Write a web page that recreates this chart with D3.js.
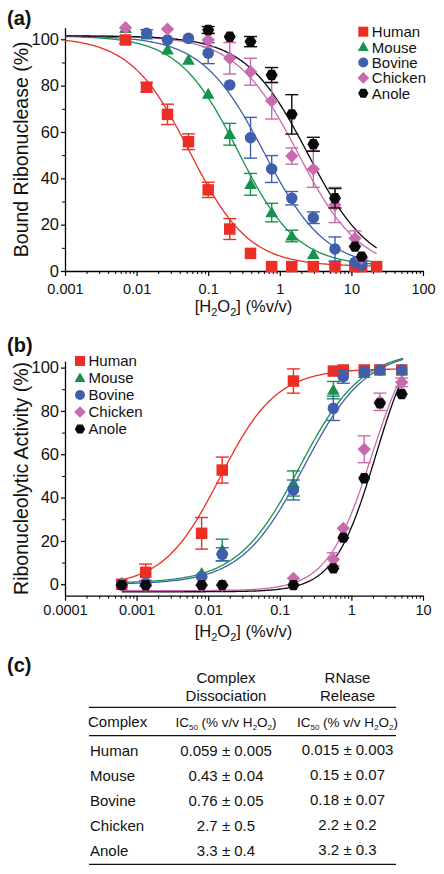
<!DOCTYPE html>
<html><head><meta charset="utf-8">
<script src="https://cdn.jsdelivr.net/npm/d3@7"></script>
<style>
body{margin:0;background:#fff;}
svg{display:block;font-family:"Liberation Sans",Arial,Helvetica,sans-serif;}
</style></head><body>
<svg id="chart" width="444" height="874"></svg>
<script>
// ---------- data ----------
const species = ["Human","Mouse","Bovine","Chicken","Anole"];
const colors = ["#ec2f26","#17924a","#3f5fad","#c96aae","#0a0a0a"];
const shapes = ["square","triangle","circle","diamond","hexagon"];

// Panel (a): bound ribonuclease (%)
const xA = [0.007,0.0138,0.027,0.053,0.1,0.2,0.39,0.77,1.47,2.94,5.9,11.2,13.9,22.5];
const humanA   = [99.7,79.3,67.6,55.8,35.0,18.1,7.6,1.9,1.9,1.9,1.9,1.9,1.9,1.9];
const humanErrA= [1.5,2,4.4,3.4,3.3,4.5,0,0,0,0,0,0,0,0];
const mouseA   = [104.7,101.9,95.4,91.0,76.3,59.0,37.4,25.2,15.1,7.2,null,null,null,null];
const mouseErrA= [0,0,0,0,0,4.7,4.7,4,2.5,0,0,0,0,0];
const bovineA  = [null,102.6,99.7,100.4,94.0,80.3,57.5,44.0,31.4,23.0,9.5,3.7,2.6,null];
const bovineErrA=[0,1.5,0,0,4.5,0,8.8,5.8,2.9,2.5,5.2,0,0,0];
const chickenA = [105,null,104.4,null,99.7,91.8,86.0,73.4,49.6,44.0,28.5,14.1,5.5,null];
const chickenErrA=[0,0,0,0,3,6.8,5.8,7.8,3.5,7.9,7.6,3.2,0,0];
const anoleA   = [null,null,null,null,104,101.1,99.0,84.6,67.6,54.7,31.4,10.5,6.2,null];
const anoleErrA= [0,0,0,0,1.5,0,2.2,3.2,8.5,3,4.2,0,0,0];
// logistic fit parameters, panel (a)
const fitTopA    = [101,101.5,101.5,101.5,101.5];
const fitBottomA = [2,2,1,0,0];
const fitMidA    = [0.055,0.26,0.6,1.8,2.45];
const fitHillA   = [1.05,1.05,1.0,1.0,1.0];
const fitRangeA  = [0.001,22.5];

// Panel (b): ribonucleolytic activity (%)
const xB = [0.00062,0.00134,0.0081,0.0157,0.155,0.56,0.77,1.51,2.5,5.05];
const humanB   = [0,5.5,23.5,52.7,93.8,98.4,98.9,98.9,98.9,98.9];
const humanErrB= [0,3.8,7.3,6,5.6,0,0,0,0,0];
const mouseB   = [0.5,1,5,15.8,46.5,89.6,null,97.3,98.9,98.9];
const mouseErrB= [0,0,0,5,5.8,4,0,0,0,0];
const bovineB  = [0,0.5,3.5,13.8,43.5,81.2,95.8,98.1,98.9,98.9];
const bovineErrB=[0,0,0,3,4.6,5.6,3,0,0,0];
const chickenB = [-0.5,-0.5,-0.5,-0.5,2.7,11.5,25.8,62.3,84.2,93.2];
const chickenErrB=[0,0,0,0,0,3,0,6.2,4,2];
const anoleB   = [-0.4,-0.5,-0.4,-0.4,-0.4,7.3,21.5,48.9,83.5,87.8];
const anoleErrB= [0,0,0,0,0,0,0,0,0,0];
const fitTopB    = [99.5,108,108,122,122];
const fitBottomB = [-1,0.5,0,-3,-3.5];
const fitMidB    = [0.0146,0.19,0.215,1.93,2.18];
const fitHillB   = [1.1,1.0,1.0,1.4,1.5];
const fitRangeB  = [0.00062,5.3];

// axis ticks
const xTicksA = [0.001,0.01,0.1,1,10,100];
const xTickLabelsA = ["0.001","0.01","0.1","1","10","100"];
const xTicksB = [0.0001,0.001,0.01,0.1,1,10];
const xTickLabelsB = ["0.0001","0.001","0.01","0.1","1","10"];
const yTicks = [0,20,40,60,80,100];
const yMinorTicks = [10,30,50,70,90];

// table (c)
const tableRows = ["Human","Mouse","Bovine","Chicken","Anole"];
const ic50Dissociation = ["0.059 ± 0.005","0.43 ± 0.04","0.76 ± 0.05","2.7 ± 0.5","3.3 ± 0.4"];
const ic50Release = ["0.015 ± 0.003","0.15 ± 0.07","0.18 ± 0.07","2.2 ± 0.2","3.2 ± 0.3"];

// ---------- drawing ----------
const svg = d3.select("#chart");

function symbolPath(kind, s) {
  const p = d3.path();
  if (kind === "square") {
    p.rect(-s/2, -s/2, s, s);
  } else if (kind === "triangle") {
    const h = s*0.95;
    p.moveTo(0, -h*0.58); p.lineTo(s*0.55, h*0.42); p.lineTo(-s*0.55, h*0.42); p.closePath();
  } else if (kind === "circle") {
    p.arc(0, 0, s*0.5, 0, 2*Math.PI);
  } else if (kind === "diamond") {
    const r = s*0.58;
    p.moveTo(0,-r); p.lineTo(r,0); p.lineTo(0,r); p.lineTo(-r,0); p.closePath();
  } else {
    const r = s*0.52;
    for (let i=0;i<6;i++){
      const a = Math.PI/3*i;
      const px = r*Math.cos(a), py = r*Math.sin(a);
      if(i===0) p.moveTo(px,py); else p.lineTo(px,py);
    }
    p.closePath();
  }
  return p.toString();
}

function logistic(x, top, bottom, mid, hill, rising) {
  const r = rising ? Math.pow(mid/x, hill) : Math.pow(x/mid, hill);
  return bottom + (top-bottom)/(1+r);
}

function minorTicks(x) {
  const [d0,d1] = x.domain();
  const out = [];
  for (let e = Math.round(Math.log10(d0)); e < Math.round(Math.log10(d1)); e++) {
    for (let m = 2; m <= 9; m++) out.push(m*Math.pow(10,e));
  }
  return out;
}

function drawPanel(cfg) {
  const g = svg.append("g");
  const {x, y} = cfg;
  const axisY = cfg.axisY;
  const xAxis = g.append("g").attr("transform",`translate(0,${axisY})`)
    .call(d3.axisBottom(x).tickValues(cfg.xTicks).tickFormat((d,i)=>cfg.xTickLabels[i])
      .tickSize(5).tickSizeOuter(0).tickPadding(cfg.xPad));
  xAxis.select(".domain").attr("stroke-width",1.3);
  xAxis.selectAll(".tick line").attr("stroke-width",1.2);
  xAxis.selectAll("text").attr("font-size",14.5).attr("fill","#111")
    .attr("font-family",'"Liberation Sans",Arial,sans-serif');
  const xMinor = g.append("g").attr("transform",`translate(0,${axisY})`)
    .call(d3.axisBottom(x).tickValues(minorTicks(x)).tickFormat("").tickSize(3).tickSizeOuter(0));
  xMinor.select(".domain").remove();
  xMinor.selectAll(".tick line").attr("stroke-width",1);

  const yAxis = g.append("g").attr("transform",`translate(${x.range()[0]},0)`)
    .call(d3.axisLeft(y).tickValues(yTicks).tickSize(4).tickSizeOuter(0).tickPadding(2));
  yAxis.select(".domain").attr("stroke-width",1.3);
  yAxis.selectAll(".tick line").attr("stroke-width",1.2);
  yAxis.selectAll("text").attr("font-size",16.5).attr("fill","#111")
    .attr("font-family",'"Liberation Sans",Arial,sans-serif');
  const yMinor = g.append("g").attr("transform",`translate(${x.range()[0]},0)`)
    .call(d3.axisLeft(y).tickValues(yMinorTicks).tickFormat("").tickSize(3).tickSizeOuter(0));
  yMinor.select(".domain").remove();

  const xt = g.append("text").attr("x",243.5).attr("y",cfg.xTitleY)
    .attr("text-anchor","middle").attr("font-size",16.5).attr("fill","#111");
  xt.append("tspan").text("[H");
  xt.append("tspan").text("2").attr("font-size",11).attr("dy",4);
  xt.append("tspan").text("O").attr("dy",-4);
  xt.append("tspan").text("2").attr("font-size",11).attr("dy",4);
  xt.append("tspan").text("] (%v/v)").attr("dy",-4);

  const yMid = (y.range()[0]+y.range()[1])/2;
  g.append("text").attr("transform",`translate(27.5,${yMid}) rotate(-90)`)
    .attr("text-anchor","middle").attr("font-size",19.5).attr("fill","#111")
    .text(cfg.yTitle);

  g.append("text").attr("x",7).attr("y",cfg.letterY).attr("font-size",20)
    .attr("font-weight","bold").attr("fill","#111").text(cfg.letter);

  const line = d3.line().x(d=>x(d[0])).y(d=>y(d[1]));
  const [r0,r1] = cfg.fitRange;
  const l0 = Math.log10(r0), l1 = Math.log10(r1);
  cfg.series.forEach((s,i)=>{
    const pts = d3.range(0,241).map(k=>{
      const xv = Math.pow(10, l0+(l1-l0)*k/240);
      return [xv, logistic(xv, cfg.fitTop[i], cfg.fitBottom[i], cfg.fitMid[i], cfg.fitHill[i], cfg.rising)];
    });
    g.append("path").datum(pts).attr("d",line).attr("fill","none")
      .attr("stroke",colors[i]).attr("stroke-width",1.3);
  });

  cfg.series.forEach((s,i)=>{
    const col = colors[i];
    const gs = g.append("g");
    const data = cfg.xs.map((xv,k)=>({x:xv, v:s[k], e:cfg.errs[i][k]})).filter(d=>d.v!==null);
    data.filter(d=>d.e>0).forEach(d=>{
      const cx = x(d.x), y1 = y(d.v+d.e), y2 = y(d.v-d.e);
      gs.append("line").attr("x1",cx).attr("x2",cx).attr("y1",y1).attr("y2",y2)
        .attr("stroke",col).attr("stroke-width",1.4);
      [y1,y2].forEach(yy=>gs.append("line").attr("x1",cx-6.5).attr("x2",cx+6.5)
        .attr("y1",yy).attr("y2",yy).attr("stroke",col).attr("stroke-width",1.4));
    });
    gs.selectAll("path.m").data(data).join("path").attr("class","m")
      .attr("transform",d=>`translate(${x(d.x)},${y(d.v)})`)
      .attr("d",symbolPath(shapes[i], 11.5)).attr("fill",col);
  });

  const lg = g.append("g");
  species.forEach((name,i)=>{
    const ly = cfg.legendY + i*cfg.legendStep;
    lg.append("path").attr("transform",`translate(${cfg.legendX},${ly})`)
      .attr("d",symbolPath(shapes[i],10)).attr("fill",colors[i]);
    lg.append("text").attr("x",cfg.legendX+8.5).attr("y",ly).attr("dy","0.36em")
      .attr("font-size",15).attr("fill","#111").text(name);
  });
}

const xScaleA = d3.scaleLog().domain([0.001,100]).range([65,423]);
const yScaleA = d3.scaleLinear().domain([0,105]).range([271,27.7]);
drawPanel({
  x:xScaleA, y:yScaleA, axisY:yScaleA(0), xPad:7.5,
  xTicks:xTicksA, xTickLabels:xTickLabelsA, xTitleY:312,
  yTitle:"Bound Ribonuclease (%)", letter:"(a)", letterY:25,
  xs:xA, series:[humanA,mouseA,bovineA,chickenA,anoleA],
  errs:[humanErrA,mouseErrA,bovineErrA,chickenErrA,anoleErrA],
  fitTop:fitTopA, fitBottom:fitBottomA, fitMid:fitMidA, fitHill:fitHillA,
  fitRange:fitRangeA, rising:false,
  legendX:363.3, legendY:31.7, legendStep:15.4
});

const xScaleB = d3.scaleLog().domain([0.0001,10]).range([65,423]);
const yScaleB = d3.scaleLinear().domain([-5.3,103]).range([595.7,361.1]);
drawPanel({
  x:xScaleB, y:yScaleB, axisY:595.7, xPad:4.5,
  xTicks:xTicksB, xTickLabels:xTickLabelsB, xTitleY:637,
  yTitle:"Ribonucleolytic Activity (%)", letter:"(b)", letterY:352,
  xs:xB, series:[humanB,mouseB,bovineB,chickenB,anoleB],
  errs:[humanErrB,mouseErrB,bovineErrB,chickenErrB,anoleErrB],
  fitTop:fitTopB, fitBottom:fitBottomB, fitMid:fitMidB, fitHill:fitHillB,
  fitRange:fitRangeB, rising:true,
  legendX:80, legendY:361, legendStep:17
});

// ---------- table (c) ----------
const tg = svg.append("g").attr("fill","#111");
tg.append("text").attr("x",7).attr("y",672).attr("font-size",20).attr("font-weight","bold").text("(c)");
const col1 = 226, col2 = 347.5, tx0 = 89, tx1 = 396;
const hdr = [["Complex","Dissociation"],["RNase","Release"]];
[col1,col2].forEach((cx,j)=>{
  tg.append("text").attr("x",cx).attr("y",683).attr("text-anchor","middle").attr("font-size",15).text(hdr[j][0]);
  tg.append("text").attr("x",cx).attr("y",700.5).attr("text-anchor","middle").attr("font-size",15).text(hdr[j][1]);
  const t = tg.append("text").attr("x",cx).attr("y",727).attr("text-anchor","middle").attr("font-size",13.5);
  t.append("tspan").text("IC");
  t.append("tspan").text("50").attr("font-size",8).attr("dy",3);
  t.append("tspan").text(" (% v/v H").attr("dy",-3);
  t.append("tspan").text("2").attr("font-size",8).attr("dy",3);
  t.append("tspan").text("O").attr("dy",-3);
  t.append("tspan").text("2").attr("font-size",8).attr("dy",3);
  t.append("tspan").text(")").attr("dy",-3);
});
tg.append("text").attr("x",88).attr("y",727).attr("font-size",15).text("Complex");
[707.3,735.7,864.3].forEach(yy=>{
  tg.append("line").attr("x1",tx0).attr("x2",tx1).attr("y1",yy).attr("y2",yy)
    .attr("stroke","#111").attr("stroke-width",1.2);
});
tableRows.forEach((name,i)=>{
  const yy = 756 + i*25;
  tg.append("text").attr("x",90).attr("y",yy).attr("font-size",15).text(name);
  tg.append("text").attr("x",col1).attr("y",yy).attr("text-anchor","middle").attr("font-size",15).text(ic50Dissociation[i]);
  tg.append("text").attr("x",col2).attr("y",yy-1).attr("text-anchor","middle").attr("font-size",15).text(ic50Release[i]);
});
</script>
</body></html>
